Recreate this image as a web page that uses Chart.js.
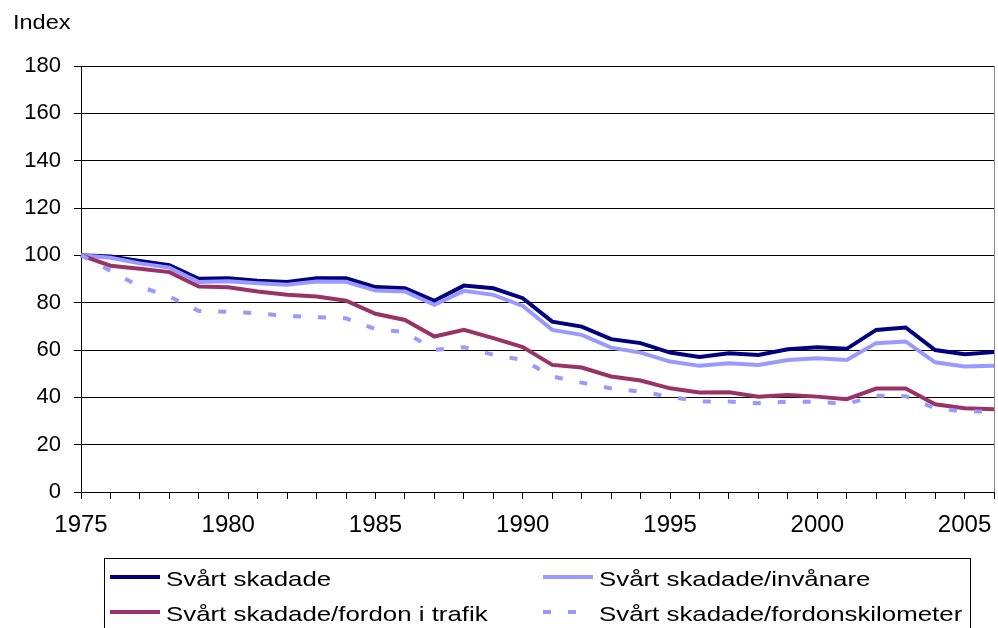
<!DOCTYPE html>
<html>
<head>
<meta charset="utf-8">
<script src="https://cdn.jsdelivr.net/npm/chart.js@4.4.1/dist/chart.umd.min.js"></script>
<style>
  html, body { margin: 0; padding: 0; background: #fff; overflow: hidden; }
  #wrap { position: relative; width: 998px; height: 628px; }
</style>
</head>
<body>
<div id="wrap"><canvas id="chart" width="998" height="628"></canvas></div>
<script>
// === DATI ===
const years = [1975, 1976, 1977, 1978, 1979, 1980, 1981, 1982, 1983, 1984, 1985, 1986, 1987, 1988, 1989, 1990,
  1991, 1992, 1993, 1994, 1995, 1996, 1997, 1998, 1999, 2000, 2001, 2002, 2003, 2004, 2005, 2006];

const svartSkadade = [100, 99.5, 97.6, 95.8, 90.1, 90.3, 89.3, 88.7, 90.3, 90.3, 86.6, 86.1, 80.8, 87.2, 86.1, 81.9,
  72.0, 69.9, 64.6, 62.9, 58.9, 57.1, 58.6, 57.9, 60.3, 61.2, 60.5, 68.5, 69.5, 60.0, 58.2, 59.1];

const perInvanare = [100, 99.0, 96.6, 94.8, 88.7, 89.0, 88.2, 87.6, 88.9, 88.8, 85.1, 84.7, 79.1, 85.0, 83.3, 78.6,
  68.5, 66.4, 61.0, 58.9, 55.1, 53.3, 54.4, 53.7, 55.8, 56.5, 55.8, 62.9, 63.6, 54.8, 53.0, 53.3];

const perFordon = [100, 95.6, 94.3, 92.9, 86.8, 86.5, 84.7, 83.3, 82.6, 80.8, 75.3, 72.7, 65.7, 68.5, 65.0, 61.2,
  53.7, 52.6, 48.8, 47.1, 43.8, 42.0, 42.1, 40.3, 41.0, 40.3, 39.2, 43.7, 43.7, 37.1, 35.4, 35.0];

const perFordonskm = [100, 93.5, 86.8, 82.6, 76.5, 76.1, 75.5, 74.4, 73.9, 73.4, 68.8, 67.6, 60.0, 61.2, 58.0, 55.8,
  48.8, 46.2, 43.8, 42.4, 40.3, 38.2, 38.2, 37.5, 38.2, 38.1, 37.2, 40.7, 40.5, 35.4, 34.0, 34.0];

const seriesNames = ['Svårt skadade', 'Svårt skadade/invånare', 'Svårt skadade/fordon i trafik', 'Svårt skadade/fordonskilometer'];
const xTickLabels = [1975, 1980, 1985, 1990, 1995, 2000, 2005];
const yTickLabels = [0, 20, 40, 60, 80, 100, 120, 140, 160, 180];
const yTitle = 'Index';

const FONT = '"Liberation Sans", Arial, Helvetica, sans-serif';

// Legenda e titolo asse disegnati sul canvas
const extrasPlugin = {
  id: 'extras',
  beforeDraw(chart) {
    const ctx = chart.ctx;
    ctx.save();
    ctx.fillStyle = '#fff';
    ctx.fillRect(0, 0, chart.width, chart.height);
    ctx.restore();
  },
  afterDraw(chart) {
    const ctx = chart.ctx;
    const area = chart.chartArea;
    ctx.save();

    // bordo destro area grafico
    ctx.strokeStyle = '#888';
    ctx.lineWidth = 1;
    ctx.beginPath();
    ctx.moveTo(Math.round(area.right) + 0.5, area.top);
    ctx.lineTo(Math.round(area.right) + 0.5, area.bottom);
    ctx.stroke();

    // titolo asse Y
    ctx.fillStyle = '#000';
    ctx.font = '21px ' + FONT;
    ctx.textBaseline = 'alphabetic';
    ctx.save();
    ctx.translate(13, 28.5);
    ctx.scale(1.12, 1);
    ctx.fillText(yTitle, 0, 0);
    ctx.restore();

    // riquadro legenda
    ctx.strokeStyle = '#000';
    ctx.strokeRect(104.5, 558.5, 866, 90);

    const slots = [[110, 577], [543, 577], [110, 612], [543, 612]];
    chart.data.datasets.forEach((ds, i) => {
      const [x, y] = slots[i];
      ctx.save();
      ctx.strokeStyle = ds.borderColor;
      ctx.lineWidth = ds.borderWidth;
      ctx.setLineDash(ds.borderDash || []);
      ctx.beginPath();
      ctx.moveTo(x, y);
      ctx.lineTo(x + 50, y);
      ctx.stroke();
      ctx.restore();

      ctx.save();
      ctx.fillStyle = '#000';
      ctx.font = '21px ' + FONT;
      ctx.textBaseline = 'alphabetic';
      ctx.translate(x + 56, y + 8.5);
      ctx.scale(1.23, 1);
      ctx.fillText(ds.label, 0, 0);
      ctx.restore();
    });
    ctx.restore();
  }
};

const serie = [svartSkadade, perInvanare, perFordon, perFordonskm];
const colori = ['#000080', '#9999FF', '#993366', '#9999FF'];

const datasets = serie.map((vals, i) => ({
  label: seriesNames[i],
  data: vals,
  borderColor: colori[i],
  borderWidth: 4,
  borderDash: i === 3 ? [8, 17] : [],
  pointRadius: 0,
  tension: 0,
  fill: false,
  order: 4 - i
}));

new Chart(document.getElementById('chart').getContext('2d'), {
  type: 'line',
  data: { labels: years, datasets },
  options: {
    responsive: false,
    animation: false,
    devicePixelRatio: 1,
    layout: { padding: { top: 66, right: 4, left: 0, bottom: 0 } },
    plugins: {
      legend: { display: false },
      tooltip: { enabled: false }
    },
    scales: {
      x: {
        type: 'category',
        offset: false,
        afterFit: s => { s.height = 136; s.paddingRight = 0; s.paddingLeft = 0; },
        border: { color: '#000', width: 1 },
        grid: { drawOnChartArea: false, drawTicks: true, tickLength: 7, color: '#000', offset: false },
        ticks: {
          autoSkip: false,
          maxRotation: 0,
          padding: 12,
          color: '#000',
          font: { family: FONT, size: 24 },
          callback: (val, i) => xTickLabels.includes(years[i]) ? String(years[i]) : ''
        }
      },
      y: {
        min: 0,
        max: 180,
        afterFit: s => { s.width = 81; },
        afterBuildTicks: s => { s.ticks = yTickLabels.map(v => ({ value: v })); },
        border: { color: '#000', width: 1 },
        grid: { color: '#000', lineWidth: 1, tickLength: 7 },
        ticks: {
          padding: 13,
          color: '#000',
          font: { family: FONT, size: 22 }
        }
      }
    }
  },
  plugins: [extrasPlugin]
});
</script>
</body>
</html>
